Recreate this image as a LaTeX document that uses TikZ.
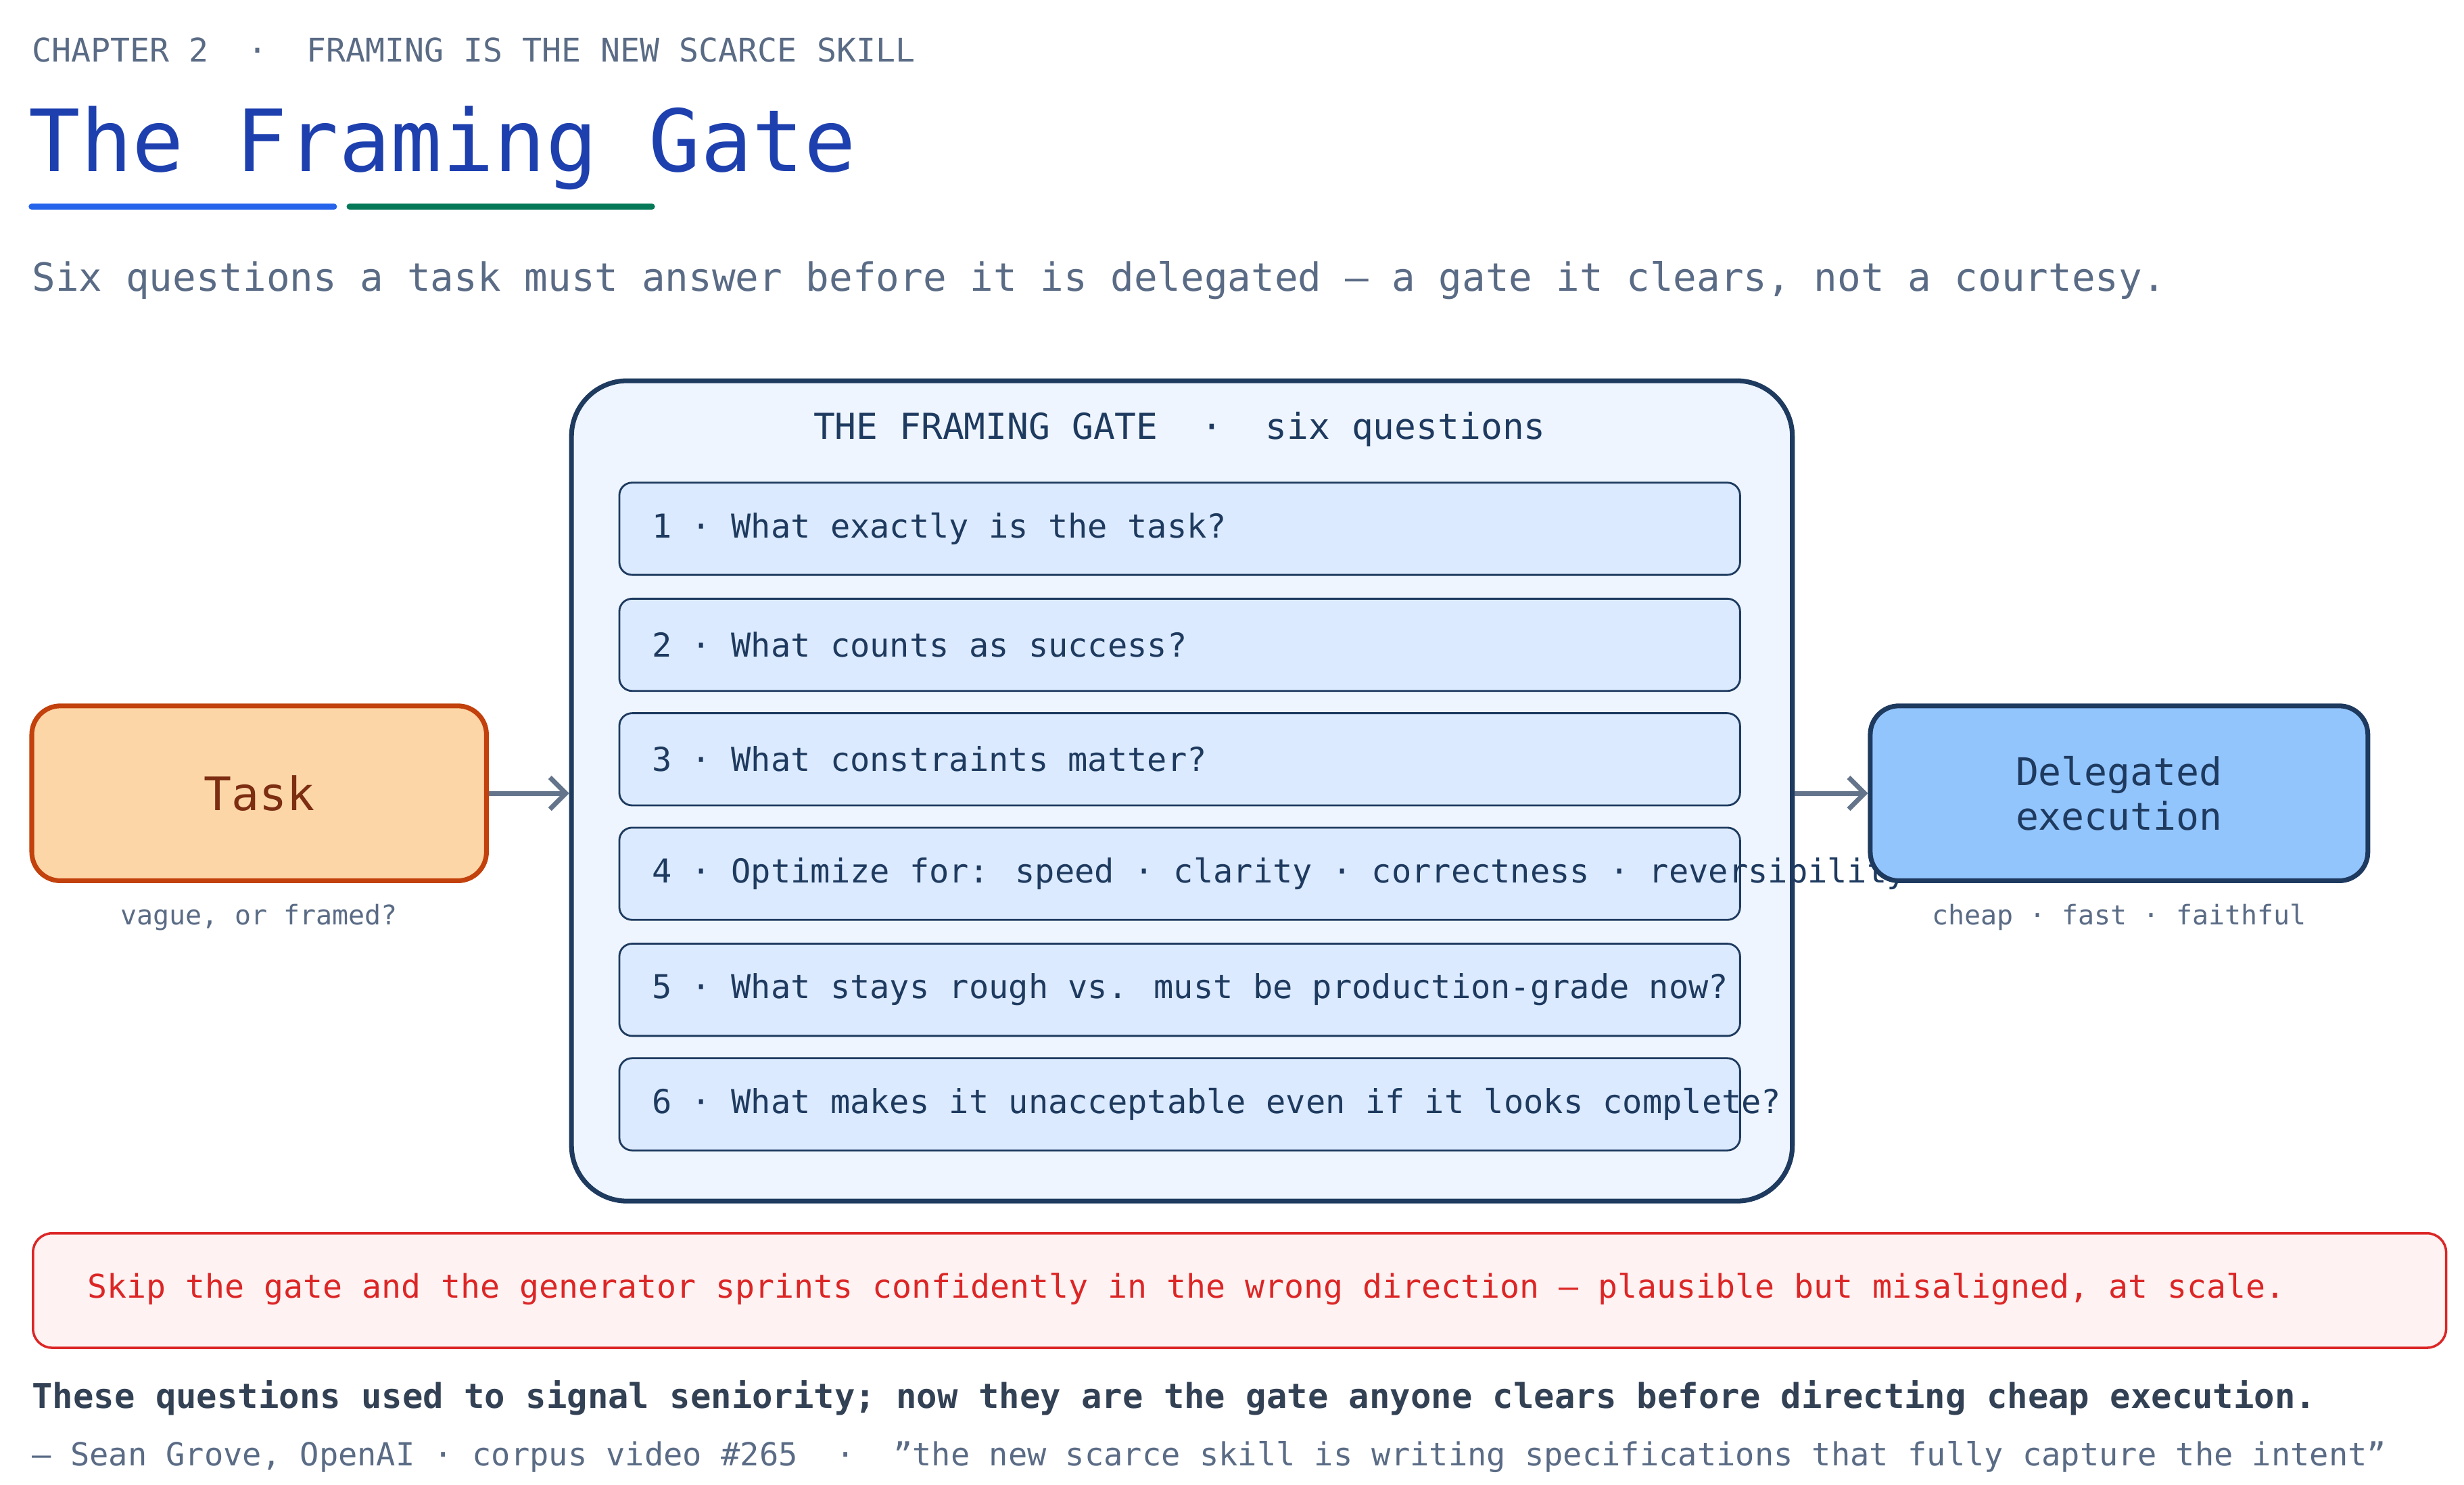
\documentclass[tikz,border=0pt]{standalone}
\usepackage{fontspec}
\usetikzlibrary{arrows.meta}
\setmainfont{DejaVu Sans Mono}
\setmonofont{DejaVu Sans Mono}
\newcommand{\fsz}[1]{\fontsize{#1}{#1}\selectfont}
\definecolor{muted}{HTML}{5A6B85}
\definecolor{navy}{HTML}{1E3A5F}
\definecolor{ttl}{HTML}{1E40AF}
\definecolor{arr}{HTML}{64748B}
\definecolor{qfill}{HTML}{DBEAFE}
\begin{document}
\begin{tikzpicture}[x=1pt,y=-1pt,
  lbl/.style={anchor=base west,inner sep=0},
  q/.style={draw=navy,line width=1.2pt,fill=qfill,rounded corners=8pt,minimum width=705pt,minimum height=58pt,anchor=north west},
  qt/.style={anchor=west,inner sep=0,text=navy,font=\fsz{20.7}},
  ar/.style={draw=arr,line width=3pt,-{Straight Barb[length=10pt,width=20pt,line width=3pt]}}]
\useasboundingbox (0,0) rectangle (1550,934);
\fill[white] (0,0) rectangle (1550,934);
\node[lbl,text=muted,font=\fsz{20.5}] (chap) at (20,39) {CHAPTER 2~~·~~FRAMING IS THE NEW SCARCE SKILL};
\node[lbl,text=ttl,font=\fsz{54}] (title) at (18,108) {The Framing Gate};
\draw[line width=4pt,draw={rgb,255:red,37;green,99;blue,235},line cap=round] (20,130) -- (210,130);
\draw[line width=4pt,draw={rgb,255:red,4;green,120;blue,87},line cap=round] (220,130) -- (410,130);
\node[lbl,text=muted,font=\fsz{24.5}] (sub) at (20,183) {Six questions a task must answer before it is delegated — a gate it clears, not a courtesy.};
% task
\node[draw={rgb,255:red,194;green,65;blue,12},fill={rgb,255:red,253;green,214;blue,168},line width=3pt,rounded corners=18pt,minimum width=286pt,minimum height=110pt,text={rgb,255:red,124;green,45;blue,18},font=\fsz{29}] (task) at (163,499) {Task};
\node[text=muted,font=\fsz{17}] (tasknote) at (163,577) {vague, or framed?};
% gate
\node[draw=navy,fill={rgb,255:red,238;green,245;blue,255},line width=3pt,rounded corners=35pt,minimum width=768pt,minimum height=516pt,anchor=north west] (gate) at (358,238) {};
\node[text=navy,font=\fsz{22.5}] (gtitle) at (742,270) {THE FRAMING GATE~~·~~six questions};
\node[q] (q1) at (389,303) {}; \node[qt] at ([xshift=21pt]q1.west) {1 · What exactly is the task?};
\node[q] (q2) at (389,376) {}; \node[qt] at ([xshift=21pt]q2.west) {2 · What counts as success?};
\node[q] (q3) at (389,448) {}; \node[qt] at ([xshift=21pt]q3.west) {3 · What constraints matter?};
\node[q] (q4) at (389,520) {}; \node[qt] at ([xshift=21pt]q4.west) {4 · Optimize for: speed · clarity · correctness · reversibility};
\node[q] (q5) at (389,593) {}; \node[qt] at ([xshift=21pt]q5.west) {5 · What stays rough vs. must be production-grade now?};
\node[q] (q6) at (389,665) {}; \node[qt] at ([xshift=21pt]q6.west) {6 · What makes it unacceptable even if it looks complete?};
% delegated
\node[draw=navy,fill={rgb,255:red,147;green,197;blue,253},line width=3pt,rounded corners=18pt,minimum width=313pt,minimum height=110pt,text=navy,font=\fsz{24},align=center] (del) at (1333,499) {Delegated\\[4pt]execution};
\node[text=muted,font=\fsz{17}] (delnote) at (1333,577) {cheap · fast · faithful};
\draw[ar] (task.east) -- (gate.west |- task.east);
\draw[ar] (gate.east |- del.west) -- (del.west);
% warning
\node[draw={rgb,255:red,220;green,38;blue,38},fill={rgb,255:red,254;green,242;blue,242},line width=1.5pt,rounded corners=12pt,minimum width=1518pt,minimum height=72pt,anchor=north west] (warn) at (20,775) {};
\node[anchor=west,inner sep=0,text={rgb,255:red,220;green,38;blue,38},font=\fsz{20.5}] at (55,811) {Skip the gate and the generator sprints confidently in the wrong direction — plausible but misaligned, at scale.};
\node[lbl,text={rgb,255:red,51;green,65;blue,85},font=\fsz{21.5}\bfseries] (foot) at (20,886) {These questions used to signal seniority; now they are the gate anyone clears before directing cheap execution.};
\node[lbl,text=muted,font=\fsz{20}] (src) at (20,922) {— Sean Grove, OpenAI · corpus video \#265~~·~~\symbol{34}the new scarce skill is writing specifications that fully capture the intent\symbol{34}};
\end{tikzpicture}
\end{document}
